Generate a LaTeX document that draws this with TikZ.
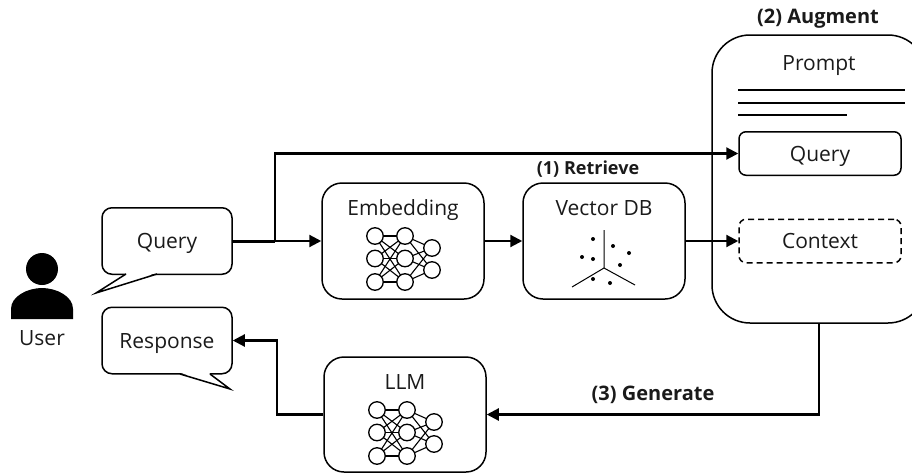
\documentclass[tikz,border=0pt]{standalone}
\usepackage{fontspec}
\setmainfont{Open Sans}
\usepackage{xcolor}
\usepackage{tikz}
\usetikzlibrary{arrows.meta}
\definecolor{inkc}{HTML}{1A1A1A}
\tikzset{
 lbl/.style={text=inkc, font=\fontsize{21}{24}\selectfont, inner sep=0, text height=19, text depth=4},
 boldlbl/.style={text=inkc, font=\fontsize{20}{24}\selectfont\bfseries, inner sep=0, text height=19, text depth=4},
 boxn/.style={draw=black, line width=1.5, rounded corners=20, minimum width=162, minimum height=116, inner sep=0},
 innerbox/.style={draw=black, line width=1.5, rounded corners=7, minimum width=162, minimum height=43.5, inner sep=0},
 bubble/.style={draw=black, line width=1.5, rounded corners=10, minimum width=130, minimum height=66.5, inner sep=0},
 neuron/.style={draw=black, fill=white, line width=1.3, circle, minimum size=16.5, inner sep=0},
 conn/.style={black, line width=2.2, -{Triangle[length=12,width=12]}}
}
\newcommand{\netdraw}[3]{
 \foreach \n/\x/\y in {a/0/0,b/0/22.5,c/0/46,d/30/0,e/30/22.5,f/30/46,g/57/12,h/57/34} \coordinate (#3\n) at (#1+\x,#2+\y);
 \foreach \s in {a,b,c} \foreach \t in {d,e,f} \draw[black,line width=1.1] (#3\s)--(#3\t);
 \foreach \s in {d,e,f} \foreach \t in {g,h} \draw[black,line width=1.1] (#3\s)--(#3\t);
 \foreach \n in {a,b,c,d,e,f,g,h} \node[neuron] at (#3\n) {};
}
\begin{document}
\begin{tikzpicture}[x=1pt,y=-1pt]
\useasboundingbox (0,0) rectangle (912,474);
\clip (0,0) rectangle (912,474);
% user
\fill[black] (42,269) circle (16);
\fill[black] (11,319) -- (11,309) .. controls (11,296) and (28,288) .. (42,288) .. controls (56,288) and (73,296) .. (73,309) -- (73,319) -- cycle;
\node[lbl] (user) at (42,338) {User};
% speech bubbles
\node[bubble] (qbubble) at (167,241) {};
\node[lbl] at (qbubble) {Query};
\fill[white] (127,273) -- (96,293) -- (156,273) -- cycle;
\draw[black,line width=1.5] (126,274) -- (96,293) -- (157,274);
\node[bubble] (rbubble) at (167,340.5) {};
\node[lbl] at (rbubble) {Response};
\fill[white] (181,373) -- (230,389) -- (209,373) -- cycle;
\draw[black,line width=1.5] (180,374) -- (230,389) -- (210,374);
% blocks
\node[boxn] (embed) at (403,241) {};
\node[lbl] at (403,208) {Embedding};
\netdraw{375}{236}{e}
\node[boxn] (vdb) at (604,241) {};
\node[lbl] at (604,208) {Vector DB};
\draw[black,line width=1] (604,230) -- (604,268) -- (572,287);
\draw[black,line width=1] (604,268) -- (635,285);
\foreach \x/\y in {593/239,613/246,629/253,582/257,593/259,620/265,593/279,610/283} \fill[black] (\x,\y) circle (2);
\node[boxn, minimum height=115] (llm) at (405,414.5) {};
\node[lbl] at (405,382) {LLM};
\netdraw{377}{410}{l}
% prompt
\node[draw=black, line width=1.5, rounded corners=38, minimum width=214, minimum height=288, inner sep=0] (prompt) at (819,179) {};
\node[lbl] at (819,63) {Prompt};
\draw[black,line width=1.8] (738,90) -- (905,90);
\draw[black,line width=1.8] (738,103) -- (905,103);
\draw[black,line width=1.8] (738,115) -- (847,115);
\node[innerbox] (pquery) at (820,153.5) {};
\node[lbl] at (pquery) {Query};
\node[innerbox, dashed, dash pattern=on 6 off 4] (pcontext) at (820,241) {};
\node[lbl] at (pcontext) {Context};
% titles
\node[boldlbl, font=\fontsize{18}{24}\selectfont\bfseries] (tretrieve) at (588,167) {(1) Retrieve};
\node[boldlbl] (taugment) at (818,16) {(2) Augment};
\node[boldlbl] (tgenerate) at (653,393) {(3) Generate};
% arrows
\coordinate (split) at (275,241);
\draw[black,line width=3] (qbubble.east) -- (split);
\draw[conn] (split) -- (embed.west);
\draw[conn] (split) |- (pquery.west);
\draw[conn] (embed.east) -- (vdb.west);
\draw[conn] (vdb.east) -- (pcontext.west);
\coordinate (pout) at (819,414.5);
\draw[conn] (prompt.south) -- (pout) -- (llm.east);
\coordinate (lout) at (277,414.5);
\draw[conn] (llm.west) -- (lout) |- (rbubble.east);
\end{tikzpicture}
\end{document}
